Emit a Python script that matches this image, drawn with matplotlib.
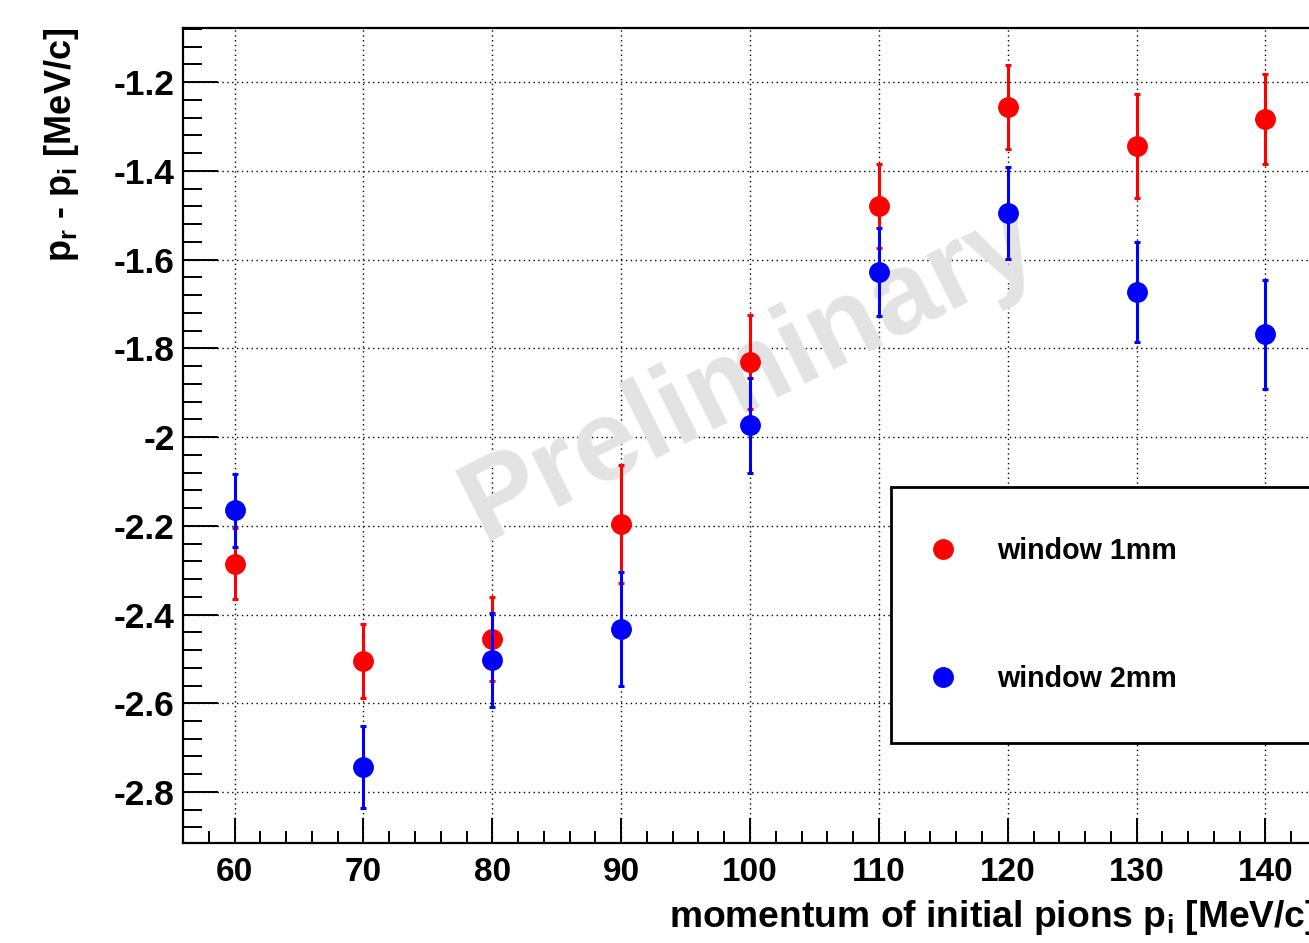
import matplotlib
matplotlib.use("Agg")
import matplotlib.pyplot as plt
from matplotlib.ticker import MultipleLocator

plt.rcParams['font.family'] = ['Liberation Sans', 'DejaVu Sans']
plt.rcParams['font.weight'] = 'bold'
plt.rcParams['mathtext.fontset'] = 'custom'
plt.rcParams['mathtext.rm'] = 'Liberation Sans:bold'
plt.rcParams['mathtext.bf'] = 'Liberation Sans:bold'
plt.rcParams['mathtext.it'] = 'Liberation Sans:bold'
plt.rcParams['mathtext.default'] = 'bf'

momentum = [60, 70, 80, 90, 100, 110, 120, 130, 140]
w1_vals = [-2.286, -2.505, -2.455, -2.196, -1.831, -1.479, -1.256, -1.344, -1.283]
w1_errs = [0.080, 0.083, 0.095, 0.132, 0.106, 0.094, 0.094, 0.118, 0.101]
w2_vals = [-2.165, -2.744, -2.503, -2.433, -1.973, -1.628, -1.495, -1.673, -1.768]
w2_errs = [0.082, 0.092, 0.106, 0.128, 0.107, 0.100, 0.103, 0.112, 0.123]
labels = ['window 1mm', 'window 2mm']
colors = ['#ff0000', '#0000ff']

W, H = 1309, 943
fig = plt.figure(figsize=(W / 100, H / 100), dpi=100)
ax_left, ax_right, ax_top, ax_bottom = 183, 1317, 28, 843
ax = fig.add_axes([ax_left / W, (H - ax_bottom) / H,
                   (ax_right - ax_left) / W, (ax_bottom - ax_top) / H])
ax.set_xlim(56, 144)
ax.set_ylim(-2.915, -1.078)

eb1 = ax.errorbar(momentum, w1_vals, yerr=w1_errs, fmt='o', color=colors[0],
                  ms=14, elinewidth=2.2, capsize=2.5, capthick=2.2, zorder=4)
eb2 = ax.errorbar(momentum, w2_vals, yerr=w2_errs, fmt='o', color=colors[1],
                  ms=14, elinewidth=2.2, capsize=2.5, capthick=2.2, zorder=5)

ax.xaxis.set_major_locator(MultipleLocator(10))
ax.xaxis.set_minor_locator(MultipleLocator(2))
ax.yaxis.set_major_locator(MultipleLocator(0.2))
ax.yaxis.set_minor_locator(MultipleLocator(0.04))
ax.yaxis.set_major_formatter(matplotlib.ticker.FuncFormatter(lambda v, p: ('%g' % round(v, 2))))

ax.grid(True, which='major', color='black', linestyle=(0, (1, 2.5)), linewidth=1.0, zorder=1)
ax.set_axisbelow(True)

ax.tick_params(axis='y', which='major', direction='in', length=25, width=1.4, labelsize=25.5, pad=6)
ax.tick_params(axis='y', which='minor', direction='in', length=13.5, width=1.4)
ax.tick_params(axis='x', which='major', direction='in', length=18, width=1.4, labelsize=24, pad=10)
ax.tick_params(axis='x', which='minor', direction='in', length=8.6, width=1.4)
for lab in ax.get_xticklabels() + ax.get_yticklabels():
    lab.set_fontweight('bold')
for s in ax.spines.values():
    s.set_linewidth(1.6)

ax.text(0.5, 0.575, 'Preliminary', transform=ax.transAxes, rotation=26.6,
        rotation_mode='anchor', ha='center', va='center', fontsize=83,
        fontweight='bold', color='#e3e3e3', zorder=2)

leg = ax.legend([eb1[0], eb2[0]], labels, loc='upper left',
                bbox_to_anchor=(0.6243, 0.1227, 0.40, 0.314), mode='expand',
                frameon=True, fancybox=False, framealpha=1.0, borderpad=1.75,
                labelspacing=3.5, handlelength=0.15, handletextpad=1.8,
                borderaxespad=0, prop={'weight': 'bold', 'size': 20.6})
leg.get_frame().set_edgecolor('black')
leg.get_frame().set_linewidth(2.0)
leg.set_zorder(6)

fig.text(ax_right / W, 1 - 927 / H, r'momentum of initial pions p$_{i}$ [MeV/c]',
         ha='right', va='baseline', fontsize=26.8, fontweight='bold')
fig.text(62 / W, 1 - ax_top / H, r'p$_{r}$ - p$_{i}$ [MeV/c]', rotation=90,
         ha='center', va='top', fontsize=26, fontweight='bold')

fig.savefig('out.png', dpi=100)
